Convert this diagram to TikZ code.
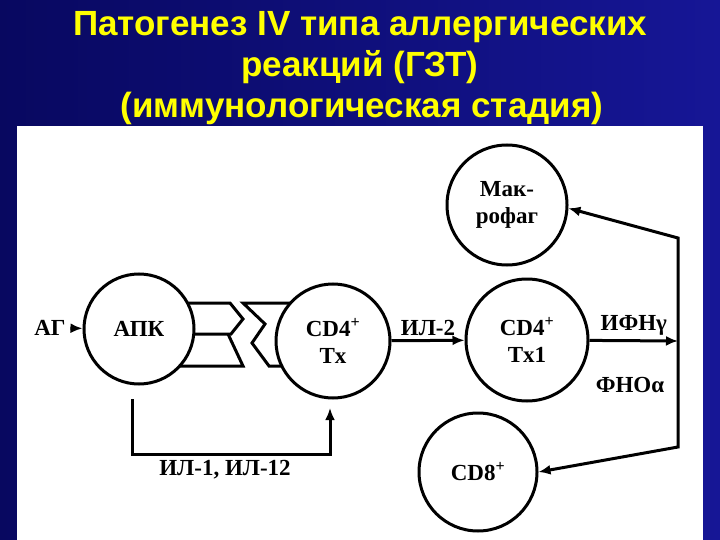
\documentclass[tikz,border=0pt]{standalone}
\usepackage{fontspec}
\usetikzlibrary{arrows.meta}
\setmainfont{Liberation Serif}
\newfontfamily\headfont{Liberation Sans}
\definecolor{slideleft}{RGB}{8,8,96}
\definecolor{slideright}{RGB}{22,22,150}
\definecolor{headyellow}{RGB}{255,255,0}

\begin{document}
\begin{tikzpicture}[x=1pt,y=-1pt,line width=3pt,>={Latex[length=12pt,width=10pt]},
  cell/.style={circle,draw,fill=white,inner sep=0pt,align=center,font=\fontsize{23}{27}\selectfont\bfseries},
  lab/.style={font=\fontsize{23}{27}\selectfont\bfseries},
  head/.style={text=headyellow,anchor=base,font=\fontsize{35}{40}\selectfont\headfont\bfseries}]
  \shade[left color=slideleft,right color=slideright] (0,0) rectangle (720,540);
  \node[head] (title1) at (360,36) {Патогенез IV типа аллергических};
  \node[head] (title2) at (360,77) {реакций (ГЗТ)};
  \node[head] (title3) at (362,118) {(иммунологическая стадия)};
  \fill[white] (17,126) rectangle (703,540);

  % receptors between APC and T cell
  \draw (175,303) -- (230,303) -- (243,319) -- (231,334) -- (175,334);
  \draw (228,334) -- (243,366) -- (170,366);
  \draw (300,303) -- (243,303) -- (265,324) -- (252,343) -- (269,366) -- (300,366);

  \node[cell,minimum size=110pt] (apk) at (139,329) {АПК};
  \node[cell,minimum size=114pt] (th) at (333,341) {CD4\textsuperscript{+}\\Tx};
  \node[cell,minimum size=122pt] (th1) at (527,340) {CD4\textsuperscript{+}\\Tx1};
  \node[cell,minimum size=120pt] (mac) at (507,205) {Мак-\\рофаг};
  \node[cell,minimum size=118pt] (cd8) at (478,472) {CD8\textsuperscript{+}};

  \node[lab] (ag) at (50,328) {АГ};
  \draw[->] (ag) -- (apk);
  \draw[->] (th) -- (th1) node[lab,midway,above] (il2) {ИЛ-2};

  \coordinate (jn) at (678,341);
  \coordinate (c1) at (678,238);
  \coordinate (c2) at (678,447);
  \draw[->] (th1) -- (jn) node[lab,midway,above] (ifn) {ИФНγ};
  \node[lab] (tnf) at (630,385) {ФНОα};
  \draw[<->] (mac.-3) -- (c1) -- (c2) -- (cd8.east);

  % IL-1, IL-12 feedback
  \coordinate (b1) at (132,399);
  \coordinate (b2) at (330,408);
  \draw[->] (b1) -- ++(0,55) -| (b2);
  \node[lab] (il1) at (225,470) {ИЛ-1, ИЛ-12};
\end{tikzpicture}
\end{document}
